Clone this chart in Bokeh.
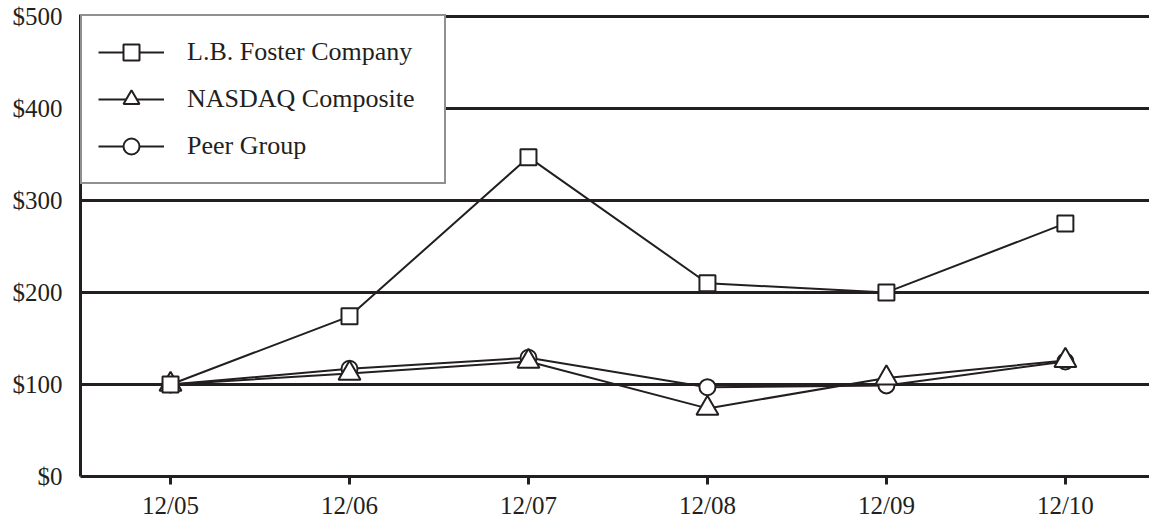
from bokeh.plotting import figure
from bokeh.models import Range1d, FixedTicker, Legend, LegendItem
from bokeh.embed import file_html
from bokeh.resources import INLINE

periods = ["12/05", "12/06", "12/07", "12/08", "12/09", "12/10"]
lb_foster = [100, 174, 347, 210, 200, 275]
nasdaq = [100, 112, 125, 74, 107, 126]
peer_group = [100, 117, 129, 97, 99, 125]
y_ticks = [0, 100, 200, 300, 400, 500]
y_tick_labels = ["$0", "$100", "$200", "$300", "$400", "$500"]

INK = "#231f20"
FONT = "Liberation Serif"

x = list(range(len(periods)))

p = figure(width=1149, height=521, output_backend="svg", toolbar_location=None,
           x_range=Range1d(-0.503, 5.47), y_range=Range1d(0, 502),
           min_border_left=80, min_border_top=14, min_border_right=0,
           min_border_bottom=45)
p.outline_line_color = None
p.background_fill_color = "white"
p.border_fill_color = "white"

p.xgrid.grid_line_color = None
p.ygrid.ticker = FixedTicker(ticks=y_ticks)
p.ygrid.grid_line_color = INK
p.ygrid.grid_line_width = 3

p.xaxis.ticker = FixedTicker(ticks=x)
p.xaxis.major_label_overrides = {i: s for i, s in zip(x, periods)}
p.yaxis.ticker = FixedTicker(ticks=y_ticks)
p.yaxis.major_label_overrides = {v: s for v, s in zip(y_ticks, y_tick_labels)}

for ax in (p.xaxis[0], p.yaxis[0]):
    ax.axis_line_color = INK
    ax.axis_line_width = 3
    ax.major_tick_line_color = INK
    ax.major_tick_line_width = 3
    ax.minor_tick_line_color = None
    ax.major_label_text_font = FONT
    ax.major_label_text_font_size = "25px"
    ax.major_label_text_color = INK
    ax.major_tick_in = 0

p.xaxis.major_tick_out = 8
p.xaxis.major_label_standoff = 7
p.yaxis.major_tick_out = 0
p.yaxis.major_tick_line_color = None
p.yaxis.major_label_standoff = 18

def series(vals, marker, size):
    ln = p.line(x, vals, line_color=INK, line_width=2)
    sc = p.scatter(x, vals, marker=marker, size=size, fill_color="white",
                   line_color=INK, line_width=2)
    return [ln, sc]

r_peer = series(peer_group, "circle", 16)
r_nasdaq = series(nasdaq, "triangle", 22)
r_foster = series(lb_foster, "square", 16)

legend = Legend(items=[
    LegendItem(label="L.B. Foster Company", renderers=r_foster),
    LegendItem(label="NASDAQ Composite", renderers=r_nasdaq),
    LegendItem(label="Peer Group", renderers=r_peer),
])
legend.location = "top_left"
legend.margin = 0
legend.padding = 16
legend.spacing = 7
legend.glyph_width = 66
legend.glyph_height = 40
legend.label_standoff = 23
legend.label_width = 241
legend.label_text_font = FONT
legend.label_text_font_size = "26px"
legend.label_text_color = INK
legend.border_line_color = INK
legend.border_line_width = 2
legend.background_fill_color = "white"
legend.background_fill_alpha = 1
p.add_layout(legend, "center")

open("out.html", "w").write(file_html(p, INLINE))
